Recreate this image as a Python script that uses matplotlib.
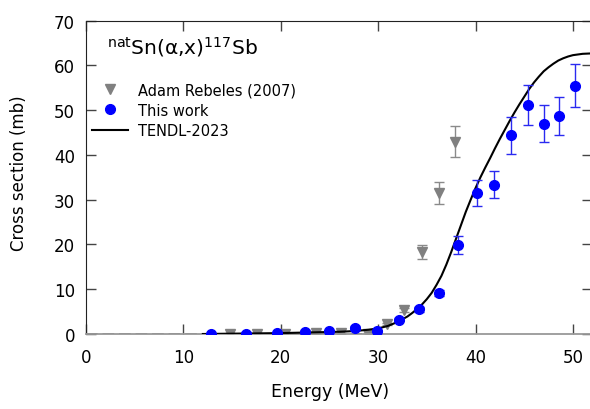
import matplotlib
matplotlib.use("Agg")
import matplotlib.pyplot as plt
from matplotlib.lines import Line2D

plt.rcParams['font.family'] = ['DejaVu Sans']
plt.rcParams['mathtext.fontset'] = 'dejavusans'

# This work
tw_E = [12.8, 16.4, 19.6, 22.5, 25.0, 27.6, 29.9, 32.1, 34.2, 36.2, 38.2, 40.1, 41.9, 43.6, 45.4, 47.0, 48.6, 50.2]
tw_xs = [0.02, 0.05, 0.2, 0.5, 0.7, 1.3, 0.7, 3.2, 5.5, 9.2, 19.8, 31.5, 33.4, 44.4, 51.1, 47.0, 48.7, 55.5]
tw_err = [0.3, 0.3, 0.3, 0.3, 0.3, 0.4, 0.3, 0.4, 0.5, 0.6, 2.0, 2.9, 3.0, 4.1, 4.5, 4.2, 4.2, 4.8]

# Adam Rebeles (2007)
ar_E = [14.8, 17.6, 20.4, 23.6, 26.2, 29.0, 30.9, 32.7, 34.5, 36.2, 37.9]
ar_xs = [0.0, 0.0, 0.0, 0.3, 0.3, 0.0, 2.2, 5.4, 18.3, 31.5, 43.0]
ar_err = [0.3, 0.3, 0.3, 0.4, 0.4, 0.3, 0.3, 0.5, 1.5, 2.5, 3.5]

# TENDL-2023
td_E = [12, 14, 16, 18, 20, 22, 24, 26, 27, 28, 29, 30, 31, 32, 33, 33.5, 34, 34.5, 35, 35.5,
        36, 36.5, 37, 37.5, 38, 38.5, 39, 39.5, 40, 40.5, 41, 41.5, 42, 42.5, 43, 43.5, 44,
        44.5, 45, 45.5, 46, 46.5, 47, 47.5, 48, 48.5, 49, 49.5, 50, 51, 52]
td_xs = [0.0, 0.05, 0.1, 0.15, 0.2, 0.3, 0.4, 0.5, 0.6, 0.75, 0.95, 1.25, 1.8, 2.7, 3.9, 4.7,
         5.6, 6.6, 7.8, 9.2, 11.0, 13.0, 15.5, 18.3, 21.3, 24.3, 27.3, 30.0, 32.6, 35.0, 37.2,
         39.3, 41.5, 43.6, 45.6, 47.6, 49.5, 51.3, 53.0, 54.7, 56.2, 57.5, 58.7, 59.6, 60.4,
         61.1, 61.6, 62.0, 62.3, 62.6, 62.7]

xticks = [0, 10, 20, 30, 40, 50]
yticks = [0, 10, 20, 30, 40, 50, 60, 70]

W, H = 590, 410
fig = plt.figure(figsize=(W / 100, H / 100), dpi=100)
x0, x1 = 86, 592.4
y0, y1 = 335, 21.7
ax = fig.add_axes([x0 / W, (H - y0) / H, (x1 - x0) / W, (y0 - y1) / H])
ax.set_xlim(0, 52)
ax.set_ylim(0, 70)

ax.axhline(0, xmin=0, xmax=30 / 52, color='#6f6f6f', lw=1.4, ls=(0, (6, 2.5)), zorder=1.5)

ax.plot(td_E, td_xs, color='black', lw=1.5, zorder=3)

ax.errorbar(ar_E, ar_xs, yerr=ar_err, fmt='none', ecolor='#8a8a8a', elinewidth=1.0,
            capsize=3.5, capthick=1.0, zorder=2)
ax.plot(ar_E, ar_xs, ls='none', marker='v', color='#808080', ms=6.5, zorder=2)

ax.errorbar(tw_E, tw_xs, yerr=tw_err, fmt='none', ecolor='#2a2af0', elinewidth=1.0,
            capsize=3.5, capthick=1.0, zorder=4)
ax.plot(tw_E, tw_xs, ls='none', marker='o', color='#0000ff', ms=7, zorder=5)

ax.set_xticks(xticks)
ax.set_yticks(yticks)
ax.tick_params(axis='both', direction='in', length=7, width=1, color='#444444',
               top=True, right=True, labelsize=12)
ax.tick_params(axis='x', pad=10)
ax.tick_params(axis='y', pad=8)
for s in ['top', 'left', 'right']:
    ax.spines[s].set_color('#222222')
ax.spines['bottom'].set_color('#999999')
ax.spines['bottom'].set_linewidth(1.3)

ax.set_xlabel('Energy (MeV)', fontsize=12.5, va='center')
ax.xaxis.set_label_coords(((W / 2 + 35) - x0) / (x1 - x0), -(392 - y0) / (y0 - y1))
ax.set_ylabel('Cross section (mb)', fontsize=12, va='center')
ax.yaxis.set_label_coords((19.5 - x0) / (x1 - x0), (y0 - 173.5) / (y0 - y1))

ax.text((106.7 - x0) / (x1 - x0), (y0 - 54.3) / (y0 - y1),
        '$^{\\mathregular{nat}}$Sn(\u03b1,x)$^{\\mathregular{117}}$Sb',
        transform=ax.transAxes, fontsize=14.5, va='baseline', ha='left')

handles = [
    Line2D([], [], ls='none', marker='v', color='#808080', ms=6.5),
    Line2D([], [], ls='none', marker='o', color='#0000ff', ms=7),
    Line2D([], [], color='black', lw=1.5),
]
labels = ['Adam Rebeles (2007)', 'This work', 'TENDL-2023']
ax.legend(handles, labels, loc='upper left', frameon=False, fontsize=10.5,
          bbox_to_anchor=((91.7 - x0) / (x1 - x0), (y0 - 83) / (y0 - y1)),
          borderpad=0, borderaxespad=0, handlelength=2.5, handletextpad=0.7,
          labelspacing=0.38)

fig.savefig('out.png', dpi=100)
